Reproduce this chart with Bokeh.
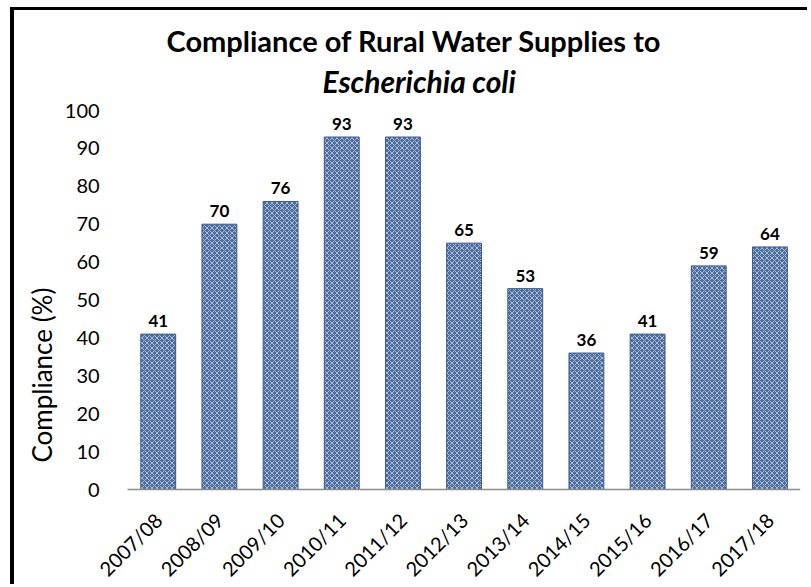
import math
from bokeh.plotting import figure
from bokeh.models import ColumnDataSource, Title, FactorRange, Range1d
from bokeh.core.properties import value
from bokeh.embed import file_html
from bokeh.resources import INLINE

years = ["2007/08", "2008/09", "2009/10", "2010/11", "2011/12", "2012/13",
         "2013/14", "2014/15", "2015/16", "2016/17", "2017/18"]
compliance = [41, 70, 76, 93, 93, 65, 53, 36, 41, 59, 64]
y_ticks = [0, 10, 20, 30, 40, 50, 60, 70, 80, 90, 100]
title_line1 = "Compliance of Rural Water Supplies to"
title_line2 = "Escherichia coli"
y_title = "Compliance (%)"

FONT = "Lato"

src = ColumnDataSource(dict(x=years, top=compliance, lab=[str(v) for v in compliance]))

# frame: 379 px for 0..100, extended below 0 (category labels), a little above 100
# (room for the top tick label) and one empty slot to the left (first rotated label)
PLOT_H, H, AXIS_TOP, EXTRA = 379, 577, 100, 12
scale = PLOT_H / 100.0
y_max = 100 + EXTRA / scale
y_min = -(H - AXIS_TOP - PLOT_H) / scale
factors = [""] + years

p = figure(x_range=FactorRange(*factors, range_padding=0), y_range=Range1d(y_min, y_max),
           width=797, height=H, output_backend="svg", toolbar_location=None,
           min_border_left=50, min_border_right=11, min_border_top=AXIS_TOP - EXTRA,
           min_border_bottom=0)
p.styles = {"border-top": "3px solid black", "border-left": "4px solid black",
            "margin-top": "7px", "margin-left": "10px"}
p.title.visible = False

p.vbar(x="x", top="top", width=0.57, source=src,
       fill_color="#4a6c9f", line_color="#3a5a88", line_width=1,
       hatch_pattern="diagonal_cross", hatch_color="white", hatch_alpha=0.55,
       hatch_scale=5, hatch_weight=1)

p.text(x="x", y="top", text="lab", source=src, text_align="center",
       text_baseline="alphabetic", y_offset=-13, text_font=value(FONT),
       text_font_style="bold", text_font_size="17px", text_color="black")

p.outline_line_color = None
p.xgrid.grid_line_color = None
p.ygrid.grid_line_color = None
p.background_fill_color = "white"
p.border_fill_color = "white"

# category axis drawn at y = 0 inside the extended frame, spanning the real categories
p.xaxis.fixed_location = 0
p.xaxis.bounds = (1, len(factors))
p.xaxis.axis_line_color = "#8c8c8c"
p.xaxis.axis_line_width = 1.5
p.xaxis.major_tick_line_color = None
p.xaxis.minor_tick_line_color = None
p.xaxis.major_label_orientation = math.pi / 4
p.xaxis.major_label_standoff = 21
p.xaxis.major_label_text_font = FONT
p.xaxis.major_label_text_font_size = "20px"
p.xaxis.major_label_text_color = "black"

# value axis placed at the left edge of the first category
p.yaxis.fixed_location = 1
p.yaxis.ticker = y_ticks
p.yaxis.axis_line_color = None
p.yaxis.major_tick_line_color = None
p.yaxis.minor_tick_line_color = None
p.yaxis.major_label_standoff = 22
p.yaxis.major_label_text_font = FONT
p.yaxis.major_label_text_font_size = "20px"
p.yaxis.major_label_text_color = "black"

# title lines: first added is closest to the frame
p.add_layout(Title(text=title_line2, align="left", offset=256, standoff=-1,
                   text_font=FONT, text_font_style="bold italic", text_font_size="30px",
                   text_color="black"), "above")
p.add_layout(Title(text=title_line1, align="left", offset=100, standoff=8,
                   text_font=FONT, text_font_style="bold", text_font_size="29px",
                   text_color="black"), "above")
p.add_layout(Title(text=y_title, align="left", offset=125, standoff=18,
                   text_font=FONT, text_font_style="normal", text_font_size="26px",
                   text_color="black"), "left")

open("out.html", "w").write(file_html(p, INLINE))
